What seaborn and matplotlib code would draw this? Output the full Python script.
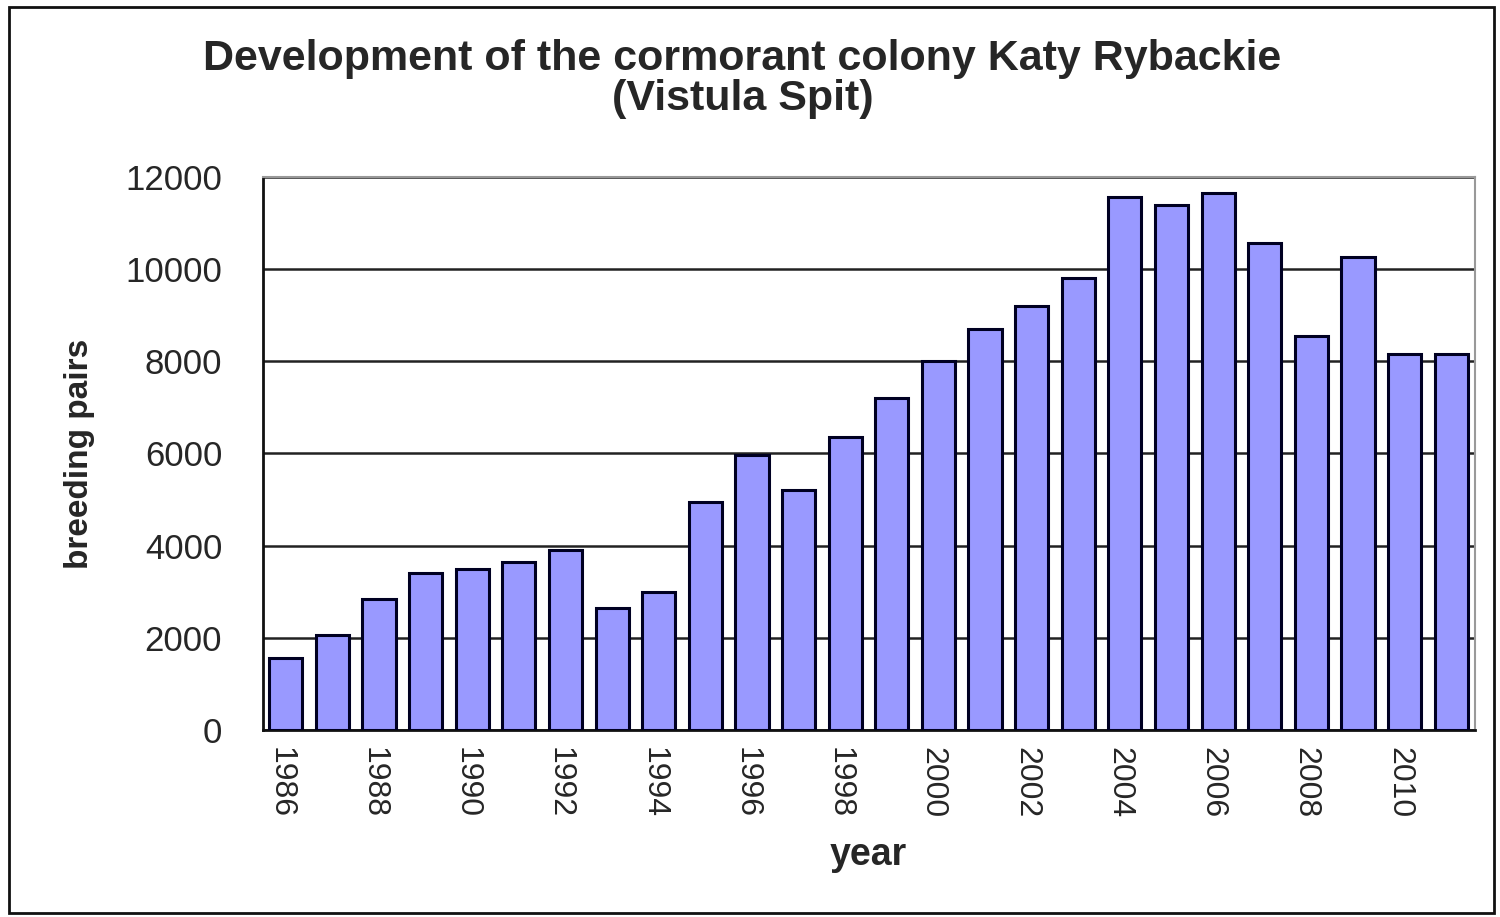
import numpy as np
import pandas as pd
import seaborn as sns
import matplotlib.pyplot as plt
from matplotlib.patches import Rectangle

years = list(range(1986, 2012))
pairs = [1560, 2060, 2840, 3400, 3500, 3650, 3900, 2650, 3000, 4950,
         5970, 5200, 6350, 7200, 8000, 8700, 9200, 9800, 11570, 11400,
         11650, 10570, 8550, 10260, 8160, 8160]
yticks = [0, 2000, 4000, 6000, 8000, 10000, 12000]

df = pd.DataFrame({"year": [str(y) for y in years], "pairs": pairs})

sns.set_style("white")
plt.rcParams['font.family'] = ['Liberation Sans', 'DejaVu Sans']

fig = plt.figure(figsize=(15, 9.17), dpi=100)
ax = fig.add_axes([0.175, 0.204, 0.808, 0.603])

sns.barplot(data=df, x="year", y="pairs", color="#9999ff", saturation=1,
            width=0.71, edgecolor="#000022", linewidth=2.2, ax=ax, zorder=3)

ax.set_ylim(0, 12000)
ax.set_xlim(-0.5, len(years) - 0.5)
ax.set_yticks(yticks)
ax.set_yticklabels([str(v) for v in yticks], fontsize=25)
ax.yaxis.grid(True, color="#222222", linewidth=1.8, zorder=0)
ax.set_axisbelow(True)

# category ticks between bars, labels every other year
ax.set_xticks(np.arange(len(years)) - 0.5, minor=False)
ax.set_xticklabels([])
ax.set_xticks(np.arange(0, len(years), 2) - 0.12, minor=True)
ax.set_xticklabels([str(y) for y in years[::2]], minor=True, rotation=-90, fontsize=23)
ax.tick_params(axis="x", which="major", direction="out", length=7, width=2, color="#111111")
ax.tick_params(axis="x", which="minor", length=0, pad=12)
ax.tick_params(axis="y", direction="out", length=9, width=1.6, color="#111111", pad=20)

for side in ["left", "bottom"]:
    ax.spines[side].set_color("#111111")
    ax.spines[side].set_linewidth(2)
for side in ["top", "right"]:
    ax.spines[side].set_visible(True)
    ax.spines[side].set_color("#999999")
    ax.spines[side].set_linewidth(1.5)

ax.set_xlabel("year", fontsize=27, fontweight="bold", labelpad=14)
ax.set_ylabel("breeding pairs", fontsize=24, fontweight="bold", labelpad=22)

fig.text(0.495, 0.914, "Development of the cormorant colony Katy Rybackie\n(Vistula Spit)",
         ha="center", va="center", fontsize=31, fontweight="bold", linespacing=1.0)

fig.patches.append(Rectangle((0.006, 0.004), 0.99, 0.988, transform=fig.transFigure,
                             fill=False, edgecolor="#111111", linewidth=2))

fig.savefig("out.png", dpi=100)
